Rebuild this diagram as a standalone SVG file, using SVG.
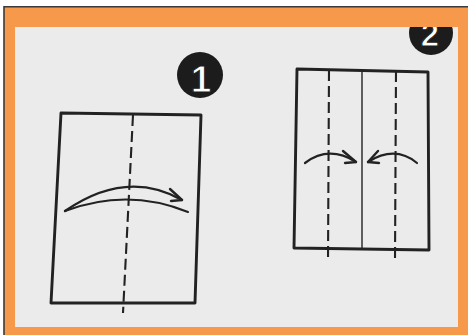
<svg xmlns="http://www.w3.org/2000/svg" width="468" height="335" viewBox="0 0 468 335">
  <style>
    .ink{fill:none;stroke:#222;stroke-linecap:round;stroke-linejoin:round}
    .sheet{stroke-width:2.9}
    .dash{stroke-width:2.1;stroke-dasharray:11 5;stroke-linecap:butt}
    .badge{fill:#1c1c1c}
    .num{font-family:"Liberation Sans",Arial,sans-serif;font-weight:bold;fill:#fff;stroke:#1c1c1c;stroke-width:1;text-anchor:middle}
  </style>
  <rect x="0" y="0" width="468" height="335" fill="#fff"/>
  <rect x="15" y="27" width="443" height="300" fill="#ebebeb"/>

  <g id="step1">
    <path class="ink sheet" d="M61,113 L201,115 L195,303 L51,303 Z"/>
    <path class="ink dash" d="M133,115 L123,313"/>
    <circle class="badge" cx="200" cy="75" r="23"/>
    <text class="num" x="201" y="92" font-size="37">1</text>
  </g>

  <g id="step2">
    <path class="ink sheet" d="M297,69 L428,72 L429,250 L294,248 Z"/>
    <path class="ink" stroke-width="1.4" d="M362,71 L362,249"/>
    <path class="ink dash" d="M329,70 L328,261"/>
    <path class="ink dash" d="M396,71 L395,261"/>
    <circle class="badge" cx="431" cy="33" r="22"/>
    <text class="num" x="430" y="46" font-size="33">2</text>
  </g>

  <g id="connectors">
    <path class="ink" stroke-width="2.4" d="M65,211 Q126.5,168.5 182,200"/>
    <path class="ink" stroke-width="2" d="M65,211 Q127.5,187.5 188,212"/>
    <path class="ink" stroke-width="2.4" d="M170,189 L182,200 L171,201"/>
    <path class="ink" stroke-width="2.2" d="M305,163 Q329,145 356,162"/>
    <path class="ink" stroke-width="2.4" d="M343,151 L356,162 L345,163"/>
    <path class="ink" stroke-width="2.2" d="M417,163 Q395,145 368,162"/>
    <path class="ink" stroke-width="2.4" d="M378,151 L368,162 L379,163"/>
  </g>

  <g id="frame">
    <path fill="#f7994b" fill-rule="evenodd" d="M4,7 H468 V335 H4 Z M15,27 V327 H458 V27 Z"/>
    <path fill="none" stroke="#3a3a3a" stroke-width="1.6" d="M4,335 V6.8 H468"/>
  </g>
</svg>
